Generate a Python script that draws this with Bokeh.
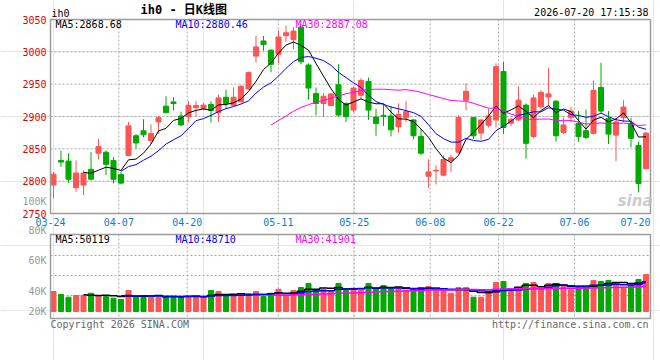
import numpy as np
import pandas as pd
from bokeh.plotting import figure
from bokeh.models import Range1d, ColumnDataSource
from bokeh.core.properties import value
from bokeh.embed import file_html
from bokeh.resources import INLINE

# ---------------- data ----------------
dates = ["03-24", "03-25", "03-26", "03-27", "03-30", "03-31", "04-01", "04-02", "04-03",
         "04-07", "04-08", "04-09", "04-10", "04-13", "04-14", "04-15", "04-16", "04-17",
         "04-20", "04-21", "04-22", "04-23", "04-24", "04-27", "04-28", "04-29", "04-30",
         "05-06", "05-07", "05-08", "05-11", "05-12", "05-13", "05-14", "05-15",
         "05-18", "05-19", "05-20", "05-21", "05-22", "05-25", "05-26", "05-27", "05-28", "05-29",
         "06-01", "06-02", "06-03", "06-04", "06-05", "06-08", "06-09", "06-10", "06-11", "06-12",
         "06-15", "06-16", "06-17", "06-18", "06-22", "06-23", "06-24", "06-25", "06-26",
         "06-29", "06-30", "07-01", "07-02", "07-03", "07-06", "07-07", "07-08", "07-09", "07-10",
         "07-13", "07-14", "07-15", "07-16", "07-17", "07-20"]

opens = [2794.0, 2832.1, 2831.0, 2789.8, 2793.9, 2818.3, 2843.3, 2844.8, 2832.1, 2810.2,
         2839.7, 2870.2, 2877.9, 2862.6, 2891.6, 2916.0, 2922.6, 2900.8, 2899.7, 2913.5,
         2912.5, 2918.6, 2905.9, 2929.8, 2917.0, 2922.6, 2942.5, 2993.4, 3016.8, 3002.5,
         2996.4, 3024.9, 3018.8, 3038.2, 2979.6, 2935.4, 2920.1, 2917.0, 2949.1, 2920.1,
         2909.9, 2932.8, 2954.2, 2899.2, 2901.8, 2900.8, 2884.0, 2898.2, 2894.7, 2869.2,
         2807.6, 2815.8, 2809.2, 2832.1, 2844.8, 2925.2, 2898.2, 2874.3, 2886.5, 2894.7,
         2969.5, 2889.6, 2894.7, 2917.6, 2869.2, 2915.0, 2930.3, 2923.7, 2875.3, 2898.2,
         2889.1, 2877.9, 2873.8, 2945.0, 2896.7, 2871.2, 2898.2, 2889.6, 2855.0, 2819.3]
highs = [2814.3, 2847.3, 2843.3, 2832.1, 2816.8, 2844.8, 2865.1, 2847.3, 2837.2, 2814.3,
         2891.6, 2872.8, 2895.7, 2888.0, 2900.8, 2931.3, 2929.8, 2907.4, 2923.7, 2923.7,
         2921.1, 2923.7, 2933.8, 2941.5, 2945.0, 2949.1, 2969.5, 3024.4, 3024.4, 3004.1,
         3033.1, 3040.7, 3038.2, 3042.2, 2982.2, 2945.0, 2936.4, 2936.4, 2980.7, 2922.1,
         2946.6, 2959.3, 2960.3, 2912.0, 2918.6, 2916.0, 2920.1, 2923.7, 2895.7, 2880.4,
         2833.6, 2824.5, 2839.7, 2840.7, 2901.8, 2951.7, 2899.2, 2895.7, 2912.0, 2982.2,
         2984.7, 2898.2, 2946.6, 2920.1, 2933.8, 2940.5, 2975.6, 2925.2, 2898.2, 2915.0,
         2908.4, 2910.9, 2955.7, 2983.2, 2908.4, 2898.2, 2925.2, 2898.2, 2861.1, 2876.0]
lows = [2773.5, 2821.9, 2797.5, 2783.7, 2778.6, 2801.5, 2833.6, 2809.2, 2796.4, 2794.9,
        2838.5, 2849.9, 2867.7, 2857.5, 2872.8, 2905.4, 2909.4, 2885.5, 2890.6, 2900.8,
        2909.4, 2890.6, 2891.6, 2913.5, 2916.0, 2922.1, 2941.5, 2983.2, 3001.5, 2968.4,
        2982.2, 3015.3, 3004.1, 2980.7, 2926.2, 2901.8, 2899.7, 2916.0, 2899.7, 2891.6,
        2906.9, 2927.2, 2894.7, 2870.2, 2885.5, 2869.2, 2875.3, 2891.6, 2865.1, 2840.7,
        2789.8, 2794.9, 2807.6, 2814.3, 2843.3, 2909.9, 2865.1, 2864.1, 2882.9, 2882.9,
        2872.8, 2885.5, 2893.1, 2834.6, 2866.2, 2912.0, 2916.0, 2861.1, 2872.8, 2891.6,
        2861.1, 2865.1, 2872.0, 2905.9, 2857.5, 2831.0, 2891.6, 2852.4, 2782.7, 2818.3]
closes = [2810.7, 2829.5, 2803.0, 2812.7, 2812.7, 2803.1, 2853.4, 2826.0, 2803.1, 2797.0,
          2885.5, 2859.0, 2871.8, 2873.8, 2898.2, 2905.9, 2920.1, 2887.0, 2917.0, 2917.0,
          2917.6, 2909.4, 2928.8, 2920.1, 2929.8, 2946.6, 2967.9, 3007.6, 3011.2, 2980.7,
          3022.9, 3029.5, 3032.1, 2984.7, 2944.0, 2920.1, 2931.3, 2934.9, 2902.3, 2899.7,
          2944.0, 2955.7, 2909.9, 2889.1, 2900.3, 2879.4, 2903.3, 2907.4, 2870.2, 2843.3,
          2814.3, 2816.8, 2833.6, 2836.1, 2898.2, 2938.9, 2870.2, 2894.7, 2900.8, 2977.1,
          2882.9, 2895.7, 2925.2, 2858.5, 2928.8, 2937.4, 2934.9, 2870.2, 2887.0, 2908.4,
          2869.2, 2867.7, 2940.5, 2908.4, 2872.8, 2891.6, 2914.5, 2866.2, 2796.4, 2874.3]
volumes = [33800, 28700, 24200, 27000, 27000, 30900, 27000, 25400, 22500, 20300,
           35500, 24200, 27000, 24200, 24200, 25400, 25400, 25400, 25400, 24200,
           25400, 35500, 33800, 25400, 25400, 29900, 29900, 33800, 25400, 30900,
           37700, 27000, 35500, 40600, 47300, 37200, 37200, 33800, 47300, 35500,
           39400, 35500, 47300, 38400, 43900, 38400, 38400, 35500, 36700, 40600,
           42300, 35500, 35500, 30900, 40600, 40600, 24200, 24200, 29900, 49000,
           50700, 33800, 40600, 47300, 49000, 38400, 47300, 47300, 42300, 36700,
           40600, 40600, 52400, 50700, 52400, 49000, 40600, 43900, 54100, 62500]

tick_dates = ["03-24", "04-07", "04-20", "05-11", "05-25", "06-08", "06-22", "07-06", "07-20"]
price_ticks = [2750, 2800, 2850, 2900, 2950, 3000, 3050]
vol_tick_labels = ["100K", "80K", "60K", "40K", "20K"]
main_legend = ["MA5:2868.68", "MA10:2880.46", "MA30:2887.08"]
vol_legend = ["MA5:50119", "MA10:48710", "MA30:41901"]
symbol = "ih0"
title_text = "ih0 - 日K线图"
stamp_text = "2026-07-20 17:15:38"
copyright_text = "Copyright 2026 SINA.COM"
url_text = "http://finance.sina.com.cn"

# ---------------- layout / styles ----------------
W, H = 660, 360
FRAME_L, FRAME_R = 50, 650
MAIN_TOP, MAIN_BOTTOM = 19, 213
VOL_TOP, VOL_BOTTOM, VOL_BASE = 234, 318, 311
VOL_PER_PX = 1690.5
RED = "#FF5555"
GREEN = "#00AA00"
MONO = "DejaVu Sans Mono"
FS = "10px"
GRID_COLOR = "#a8a8a8"
OUTLINE = "#9c9c9c"
DATE_BLUE = "#0a7ccf"
PRICE_RED = "#E00000"
VOL_GRAY = "#999999"
ma_colors = ["black", "#0000FF", "#FF00FF"]
ma_windows = [5, 10, 30]

n = len(dates)
slot = (FRAME_R - FRAME_L) / n
x_start = -0.4 - FRAME_L / slot
k = (price_ticks[-1] - price_ticks[0]) / (MAIN_BOTTOM - MAIN_TOP)

p = figure(width=W, height=H,
           x_range=Range1d(x_start, x_start + W / slot),
           y_range=Range1d(price_ticks[0] - (H - MAIN_BOTTOM) * k, price_ticks[-1] + MAIN_TOP * k),
           x_axis_location=None, y_axis_location=None, min_border=0,
           output_backend="svg", toolbar_location=None,
           background_fill_color="white", border_fill_color="white")
p.outline_line_color = None
p.extra_x_ranges = {"px": Range1d(0, W)}
p.extra_y_ranges = {"px": Range1d(H, 0),
                    "vol": Range1d(-(H - VOL_BASE) * VOL_PER_PX, VOL_BASE * VOL_PER_PX)}

x = np.arange(n)
o = np.array(opens); c = np.array(closes)
colors = [RED if u else GREEN for u in (c >= o)]
src = ColumnDataSource(dict(x=x, top=np.maximum(o, c), bottom=np.minimum(o, c),
                            high=highs, low=lows, color=colors, vol=volumes))
cs = pd.Series(closes)
vs = pd.Series(volumes)

idx = [dates.index(d) for d in tick_dates]
tick_pos = [i * n / (n - 1) - 0.4 for i in idx]

# ---------- grid lines ----------
gkw = dict(line_color=GRID_COLOR, line_dash="2 2", line_width=1)
inner_prices = price_ticks[1:-1]
p.segment(x0=[FRAME_L] * len(inner_prices), x1=[FRAME_R] * len(inner_prices),
          y0=inner_prices, y1=inner_prices, x_range_name="px", **gkw)
p.segment(x0=tick_pos, x1=tick_pos, y0=[MAIN_TOP] * len(tick_pos), y1=[MAIN_BOTTOM] * len(tick_pos),
          y_range_name="px", **gkw)
p.segment(x0=tick_pos, x1=tick_pos, y0=[VOL_TOP] * len(tick_pos), y1=[VOL_BOTTOM] * len(tick_pos),
          y_range_name="px", **gkw)
vol_grid_px = [255, 275, 295]
p.segment(x0=[FRAME_L] * 3, x1=[FRAME_R] * 3, y0=vol_grid_px, y1=vol_grid_px,
          x_range_name="px", y_range_name="px", **gkw)

# ---------- candles ----------
p.segment("x", "high", "x", "low", color="color", line_width=1, source=src)
p.vbar(x="x", width=0.67, top="top", bottom="bottom", fill_color="color",
       line_color="color", line_width=1, source=src)
for w, col in zip(ma_windows, ma_colors):
    p.line(x, cs.rolling(w).mean().values, color=col, line_width=1)

# ---------- volume ----------
p.vbar(x="x", width=0.67, top="vol", bottom=0, fill_color="color", line_color="color",
       line_width=1, source=src, y_range_name="vol")
for w, col in zip(ma_windows, ma_colors):
    p.step(x, vs.rolling(w).mean().values, mode="center", color=col, line_width=1.5,
           y_range_name="vol")

# ---------- frames ----------
p.quad(left=[FRAME_L, FRAME_L], right=[FRAME_R, FRAME_R], top=[MAIN_TOP, VOL_TOP],
       bottom=[MAIN_BOTTOM, VOL_BOTTOM], fill_color=None, line_color=OUTLINE, line_width=1.5,
       x_range_name="px", y_range_name="px")

# ---------- texts ----------
def txt(xs, ys, texts, color="black", align="left", size=FS, style="normal", font=MONO,
        alpha=1.0, xr="px", yr="px"):
    p.text(x=xs, y=ys, text=texts, text_color=color, text_align=align, text_baseline="middle",
           text_font=value(font), text_font_size=size, text_font_style=style, text_alpha=alpha,
           x_range_name=xr, y_range_name=yr)

# price axis labels
txt([FRAME_L - 4] * len(price_ticks), price_ticks, [str(t) for t in price_ticks],
    color=PRICE_RED, align="right", yr="default")
# date axis labels
txt(tick_pos[:-1], [221] * (len(tick_pos) - 1), tick_dates[:-1], color=DATE_BLUE,
    align="center", xr="default")
txt([FRAME_R], [221], [tick_dates[-1]], color=DATE_BLUE, align="right")
# header
txt([FRAME_L + 1], [12.5], [symbol])
txt([140], [9.5], [title_text], size="12px", style="bold", font=MONO + ", Noto Sans CJK SC")
txt([FRAME_R - 2], [12.2], [stamp_text], align="right")
# legends
txt([55, 175, 295], [23.7] * 3, main_legend, color=ma_colors)
txt([55, 175, 295], [238.5] * 3, vol_legend, color=ma_colors)
# volume axis labels
txt([FRAME_L - 4] * len(vol_tick_labels), [200.7, 230.3, 260.3, 291.0, 311.3], vol_tick_labels,
    color=VOL_GRAY, align="right")
# footer
txt([FRAME_L], [323.5], [copyright_text], color="#666666")
txt([FRAME_R - 2], [323.5], [url_text], color="#666666", align="right")
# watermark
txt([FRAME_R + 2], [200], ["sina"], color="#bdbdbd", size="15px", style="bold italic",
    font="DejaVu Sans", align="right", alpha=0.8)

open("out.html", "w").write(file_html(p, INLINE))
